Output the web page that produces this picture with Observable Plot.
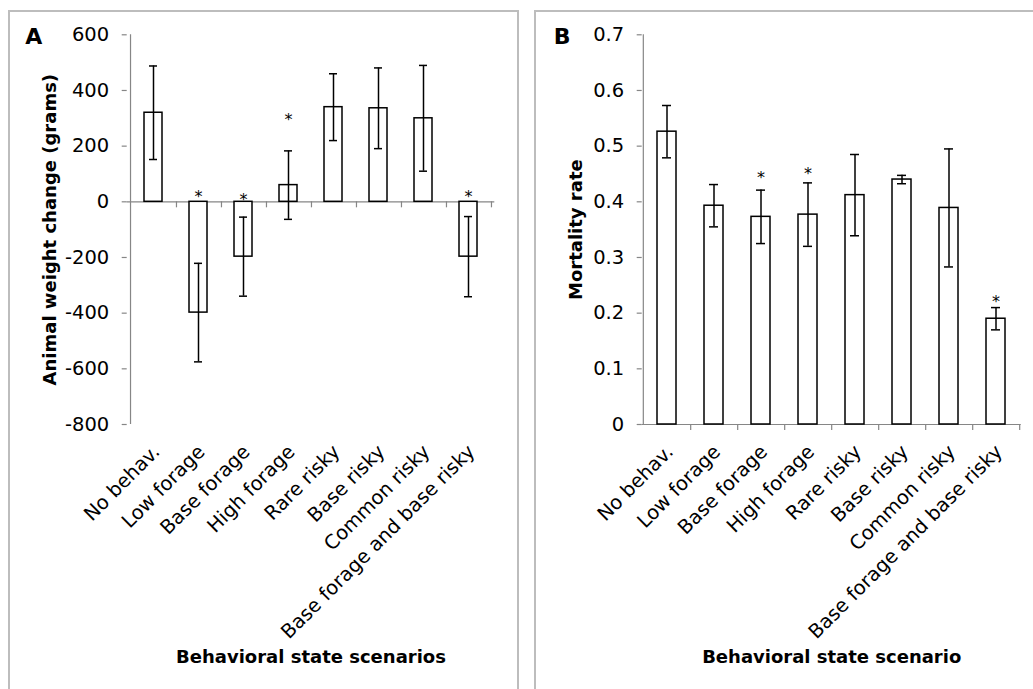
<!DOCTYPE html>
<html><head><meta charset="utf-8">
<script src="https://cdn.jsdelivr.net/npm/d3@7"></script>
<script src="https://cdn.jsdelivr.net/npm/@observablehq/plot@0.6"></script>
<style>
body{margin:0;background:#fff;}
#page{position:relative;width:1033px;height:689px;overflow:hidden;font-family:"DejaVu Sans",sans-serif;background:#fff;}
.box{position:absolute;border:2px solid #bdbdbd;box-sizing:border-box;}
.panel{position:absolute;top:0;}
</style></head><body>
<div id="page">
  <div class="box" style="left:8px;top:10px;width:511px;height:720px"></div>
  <div class="box" style="left:534px;top:10px;width:540px;height:720px"></div>
  <div id="a" class="panel" style="left:0px"></div>
  <div id="b" class="panel" style="left:516px"></div>
</div>
<script>
const categories = ["No behav.", "Low forage", "Base forage", "High forage", "Rare risky", "Base risky", "Common risky", "Base forage and base risky"];
const weightChange = [320, -398, -197, 60, 340, 336, 300, -197];
const weightError = [168, 177, 142, 123, 120, 145, 190, 144];
const weightStars = [null, 33, 23, 308, null, null, null, 33];
const weightTicks = [-800, -600, -400, -200, 0, 200, 400, 600];
const mortality = [0.526, 0.393, 0.373, 0.377, 0.412, 0.440, 0.389, 0.190];
const mortalityError = [0.047, 0.038, 0.048, 0.057, 0.073, 0.0075, 0.106, 0.020];
const mortalityStars = [null, null, 0.4505, 0.457, null, null, null, 0.228];
const mortalityTicks = [0, 0.1, 0.2, 0.3, 0.4, 0.5, 0.6, 0.7];

const FONT = '"DejaVu Sans", sans-serif';
const AXIS = "#868686";

function panel(o) {
  const data = categories.map((c, i) => ({
    c, v: o.values[i], lo: o.values[i] - o.errors[i], hi: o.values[i] + o.errors[i], star: o.stars[i]
  }));
  const H = 689, mt = 34.3, mb = 689 - 424;
  const step = (o.width - o.ml - o.mr) / categories.length;
  return Plot.plot({
    width: o.width, height: H,
    marginLeft: o.ml, marginRight: o.mr, marginTop: mt, marginBottom: mb,
    style: {fontFamily: FONT, background: "transparent", overflow: "visible", color: "black"},
    x: {domain: categories, paddingInner: 0.59, paddingOuter: 0.295},
    y: {domain: [o.ticks[0], o.ticks[o.ticks.length - 1]]},
    marks: [
      Plot.axisY({ticks: o.ticks, tickSize: 5, tickPadding: 13, fontSize: 19.5, stroke: AXIS, strokeWidth: 1.2, tickFormat: o.fmt, label: null}),
      Plot.axisX({tickRotate: -45, tickSize: 0, tickPadding: 24, dx: 3, fontSize: 19.5, label: null}),
      Plot.ruleX([categories[0]], {dx: -step / 2, stroke: AXIS, strokeWidth: 1.2}),
      Plot.ruleY([0], {stroke: AXIS, strokeWidth: 1.2}),
      Plot.ruleX(categories, {x: d => d, y1: 0, y2: 0, dx: step / 2, insetTop: 0, insetBottom: -6, stroke: AXIS, strokeWidth: 1.2}),
      Plot.barY(data, {x: "c", y: "v", fill: "white", stroke: "black", strokeWidth: 1.5}),
      Plot.ruleX(data, {x: "c", y1: "lo", y2: "hi", stroke: "black", strokeWidth: 1.5}),
      Plot.tickY(data, {x: "c", y: "lo", insetLeft: 5, insetRight: 5, stroke: "black", strokeWidth: 1.5}),
      Plot.tickY(data, {x: "c", y: "hi", insetLeft: 5, insetRight: 5, stroke: "black", strokeWidth: 1.5}),
      Plot.text(data.filter(d => d.star != null), {x: "c", y: "star", text: () => "*", fontSize: 16, dy: 4, fill: "black"}),
      Plot.text([o.letter], {frameAnchor: "top-left", textAnchor: "middle", lineAnchor: "middle", dx: o.letterDx, dy: 2.3, fontSize: 22, fontWeight: "bold", fill: "black"}),
      Plot.text([o.ylabel], {frameAnchor: "left", rotate: -90, textAnchor: "middle", lineAnchor: "middle", dx: o.ylabelDx, fontSize: 18, fontWeight: "bold", fill: "black"}),
      Plot.text([o.xlabel], {frameAnchor: "bottom", textAnchor: "middle", lineAnchor: "middle", dy: 233, fontSize: 18, fontWeight: "bold", fill: "black"})
    ]
  });
}

document.getElementById("a").append(panel({
  values: weightChange, errors: weightError, stars: weightStars, ticks: weightTicks,
  fmt: d => String(d), width: 516, ml: 126.7, mr: 516 - 494.3,
  letter: "A", letterDx: -93.5, ylabel: "Animal weight change (grams)", ylabelDx: -77,
  xlabel: "Behavioral state scenarios"
}));
document.getElementById("b").append(panel({
  values: mortality, errors: mortalityError, stars: mortalityStars, ticks: mortalityTicks,
  fmt: d => String(+d.toFixed(1)), width: 517, ml: 641.7 - 516, mr: 1033 - 1020.7,
  letter: "B", letterDx: -80, ylabel: "Mortality rate", ylabelDx: -65.7,
  xlabel: "Behavioral state scenario"
}));
</script>
</body></html>
